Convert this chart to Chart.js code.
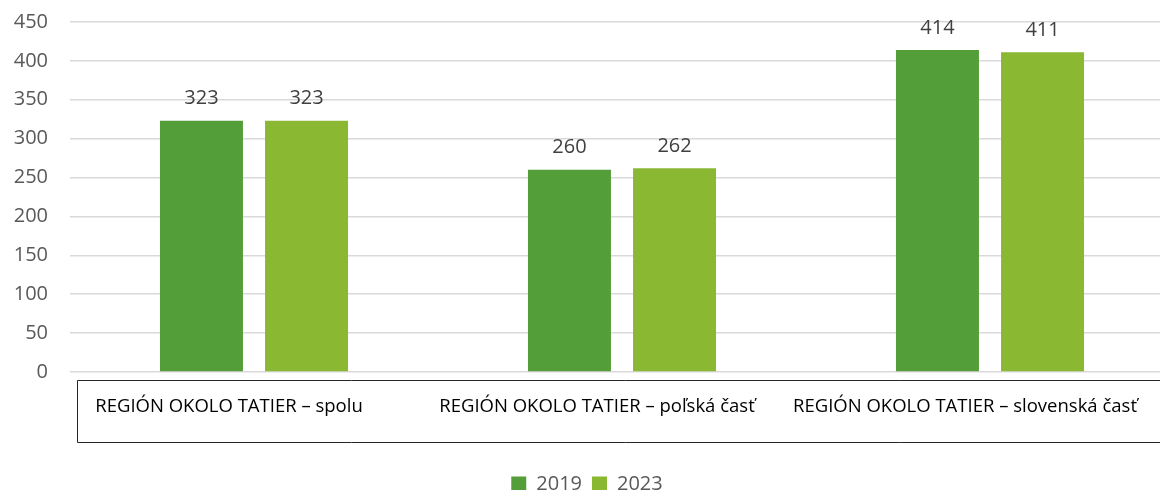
<!DOCTYPE html>
<html lang="sk">
<head>
    <meta charset="UTF-8">
    <title>Región okolo Tatier</title>
    <style>
        body {
            margin: 0;
            padding: 0;
            background-color: white;
            overflow: hidden;
        }
        .chart-box {
            width: 1174px; /* plot runs a bit past the right edge, like the original */
            height: 490px;
        }
    </style>
</head>
<body>

<div class="chart-box">
    <canvas id="barChart"></canvas>
</div>

<script src="https://cdn.jsdelivr.net/npm/chart.js"></script>
<script>
    // data
    var categories = [
        'REGIÓN OKOLO TATIER – spolu',
        'REGIÓN OKOLO TATIER – poľská časť',
        'REGIÓN OKOLO TATIER – slovenská časť'
    ];
    var values2019 = [323, 260, 414];
    var values2023 = [323, 262, 411];
    var yTicks = [0, 50, 100, 150, 200, 250, 300, 350, 400, 450];

    var fontName = "'Open Sans', sans-serif";

    // numbers above the bars + the box around the category labels
    var extrasPlugin = {
        id: 'extras',
        afterDatasetsDraw: function (chart) {
            var ctx = chart.ctx;
            ctx.save();
            ctx.font = '20px ' + fontName;
            ctx.fillStyle = '#404040';
            ctx.textAlign = 'center';
            ctx.textBaseline = 'bottom';
            chart.data.datasets.forEach(function (ds, di) {
                chart.getDatasetMeta(di).data.forEach(function (bar, i) {
                    ctx.fillText(ds.data[i], bar.x, bar.y - 12);
                });
            });

            // frame around x labels
            var area = chart.chartArea;
            ctx.strokeStyle = '#262626';
            ctx.lineWidth = 1;
            ctx.beginPath();
            ctx.moveTo(chart.width, area.bottom + 8.5);
            ctx.lineTo(area.left + 7.5, area.bottom + 8.5);
            ctx.lineTo(area.left + 7.5, area.bottom + 70.5);
            ctx.lineTo(chart.width, area.bottom + 70.5);
            ctx.stroke();
            ctx.restore();
        }
    };

    var ctx = document.getElementById('barChart').getContext('2d');
    var myChart = new Chart(ctx, {
        type: 'bar',
        data: {
            labels: categories,
            datasets: [{
                label: '2019',
                data: values2019,
                backgroundColor: '#549E39',
                barPercentage: 0.79,
                categoryPercentage: 0.571
            }, {
                label: '2023',
                data: values2023,
                backgroundColor: '#8AB833',
                barPercentage: 0.79,
                categoryPercentage: 0.571
            }]
        },
        options: {
            responsive: true,
            maintainAspectRatio: false,
            animation: false,
            layout: {
                padding: { top: 22, left: 0, right: 0, bottom: -14 }
            },
            plugins: {
                legend: {
                    position: 'bottom',
                    labels: {
                        font: { family: fontName, size: 20 },
                        color: '#595959',
                        boxWidth: 15,
                        boxHeight: 15,
                        padding: 10
                    }
                },
                tooltip: { enabled: false }
            },
            scales: {
                x: {
                    grid: { display: false },
                    border: { display: false },
                    ticks: {
                        font: { family: fontName, size: 18.5 },
                        color: '#000000',
                        padding: 16,
                        labelOffset: -25,
                        maxRotation: 0
                    },
                    afterFit: function (scale) {
                        scale.height = 92;
                        scale.paddingLeft = 0;
                        scale.paddingRight = 0;
                    }
                },
                y: {
                    min: 0,
                    max: 450,
                    afterBuildTicks: function (scale) {
                        scale.ticks = yTicks.map(function (v) { return { value: v }; });
                    },
                    grid: {
                        color: '#d9d9d9',
                        lineWidth: 1.5,
                        drawTicks: false
                    },
                    border: { display: false },
                    ticks: {
                        font: { family: fontName, size: 20 },
                        color: '#595959',
                        padding: 22
                    },
                    afterFit: function (scale) {
                        scale.width = 70;
                        scale.paddingTop = 0;
                        scale.paddingBottom = 0;
                    }
                }
            }
        },
        plugins: [extrasPlugin]
    });
</script>

</body>
</html>
